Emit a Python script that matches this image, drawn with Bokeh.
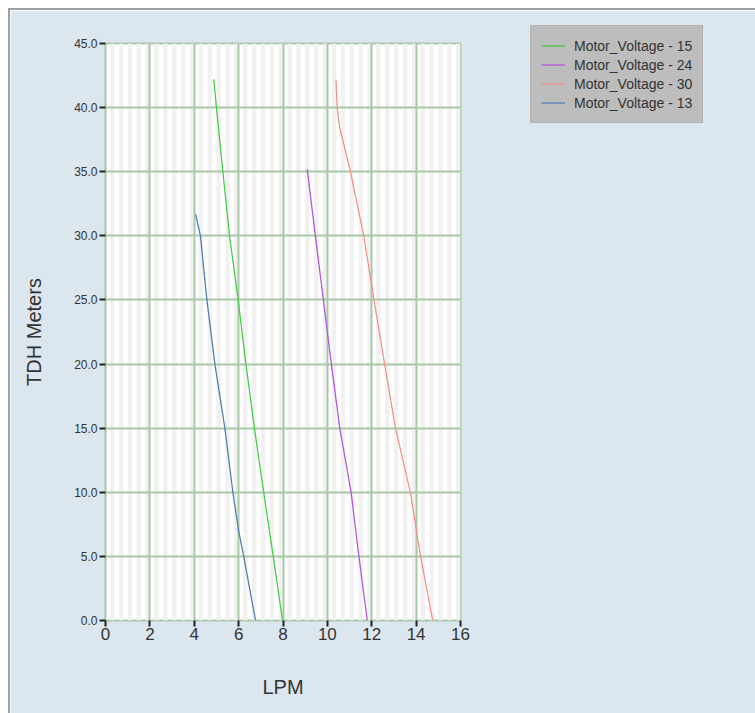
from bokeh.plotting import figure
from bokeh.models import (Range1d, SingleIntervalTicker, Grid, Legend, LegendItem,
                          PrintfTickFormatter)
from bokeh.embed import file_html
from bokeh.resources import INLINE

# ---- data ----
series_names = ["Motor_Voltage - 15", "Motor_Voltage - 24", "Motor_Voltage - 30", "Motor_Voltage - 13"]
series_colors = ["#4acb4a", "#b057dc", "#f0948a", "#4f7eb0"]

lpm_15 = [4.88, 5.00, 5.29, 5.59, 5.98, 6.33, 6.71, 7.13, 7.56, 7.98]
tdh_15 = [42.2, 40.0, 35.0, 30.0, 25.0, 20.0, 15.0, 10.0, 5.0, 0.0]

lpm_24 = [9.09, 9.46, 9.82, 10.18, 10.56, 11.07, 11.42, 11.80]
tdh_24 = [35.2, 30.0, 25.0, 20.0, 15.0, 10.0, 5.0, 0.0]

lpm_30 = [10.39, 10.44, 10.55, 11.04, 11.64, 12.10, 12.58, 13.07, 13.74, 14.20, 14.75]
tdh_30 = [42.2, 40.0, 38.5, 35.0, 30.0, 25.0, 20.0, 15.0, 10.0, 5.0, 0.0]

lpm_13 = [4.06, 4.28, 4.45, 4.57, 4.93, 5.38, 5.74, 6.00, 6.23, 6.76]
tdh_13 = [31.7, 30.0, 27.0, 25.0, 20.0, 15.0, 10.0, 7.0, 5.0, 0.0]

x_min, x_max, x_step = 0, 16, 2
y_min, y_max, y_step = 0, 45, 5

BG = "#dce6ef"
GRID = "#a8c8a8"

p = figure(frame_width=355, frame_height=577, output_backend="svg", toolbar_location=None,
           x_range=Range1d(x_min, x_max), y_range=Range1d(y_min, y_max),
           min_border_left=95, min_border_top=33, min_border_right=295, min_border_bottom=93)
p.styles = {"margin-left": "8px", "margin-top": "8px",
            "border-top": "2px solid #a0a0a0", "border-left": "2px solid #a0a0a0"}

p.background_fill_color = "white"
p.border_fill_color = BG
p.outline_line_color = GRID
p.outline_line_width = 2

# stripes (drawn first, under the grid lines)
stripe_grid = Grid(dimension=0, ticker=SingleIntervalTicker(interval=0.2),
                   grid_line_color=None, band_fill_color="#f1f1f1", band_fill_alpha=1.0)
stripe_grid.level = "image"
p.add_layout(stripe_grid, "center")

p.xaxis.ticker = SingleIntervalTicker(interval=x_step, num_minor_ticks=0)
p.yaxis.ticker = SingleIntervalTicker(interval=y_step, num_minor_ticks=0)
p.yaxis.formatter = PrintfTickFormatter(format="%.1f")

for g in (p.xgrid[0], p.ygrid[0]):
    g.grid_line_color = GRID
    g.grid_line_width = 2
    g.level = "underlay"

for ax in (p.xaxis[0], p.yaxis[0]):
    ax.axis_line_color = None
    ax.major_tick_line_color = "#222222"
    ax.major_tick_line_width = 2
    ax.major_tick_out = 6
    ax.major_tick_in = 0
    ax.minor_tick_line_color = None
    ax.major_label_text_color = "#333333"
    ax.major_label_text_font = "Liberation Sans"
    ax.axis_label_text_font = "Liberation Sans"
    ax.axis_label_text_font_style = "normal"
    ax.axis_label_text_color = "#333333"
    ax.axis_label_text_font_size = "20px"

p.xaxis.major_label_text_font_size = "17px"
p.xaxis.major_label_standoff = 1
p.yaxis.major_label_text_font_size = "12px"
p.yaxis.major_label_standoff = 2
p.xaxis.axis_label = "LPM"
p.yaxis.axis_label = "TDH Meters"
p.xaxis.axis_label_standoff = 33
p.yaxis.axis_label_standoff = 26

renderers = []
for xs, ys, c in [(lpm_15, tdh_15, series_colors[0]), (lpm_24, tdh_24, series_colors[1]),
                  (lpm_30, tdh_30, series_colors[2]), (lpm_13, tdh_13, series_colors[3])]:
    r = p.line(xs, ys, line_color=c, line_width=1.3)
    renderers.append(r)

legend = Legend(items=[LegendItem(label=n, renderers=[r]) for n, r in zip(series_names, renderers)],
                location=(70, 497))
legend.background_fill_color = "#bdbdbd"
legend.background_fill_alpha = 1.0
legend.border_line_color = "#a9a9a9"
legend.border_line_width = 1
legend.padding = 10
legend.spacing = 0
legend.margin = 0
legend.label_height = 19
legend.glyph_height = 19
legend.glyph_width = 24
legend.label_standoff = 9
legend.label_text_font = "Liberation Sans"
legend.label_text_font_size = "14px"
legend.label_text_color = "#333333"
p.add_layout(legend, "right")

open("out.html", "w").write(file_html(p, INLINE))
